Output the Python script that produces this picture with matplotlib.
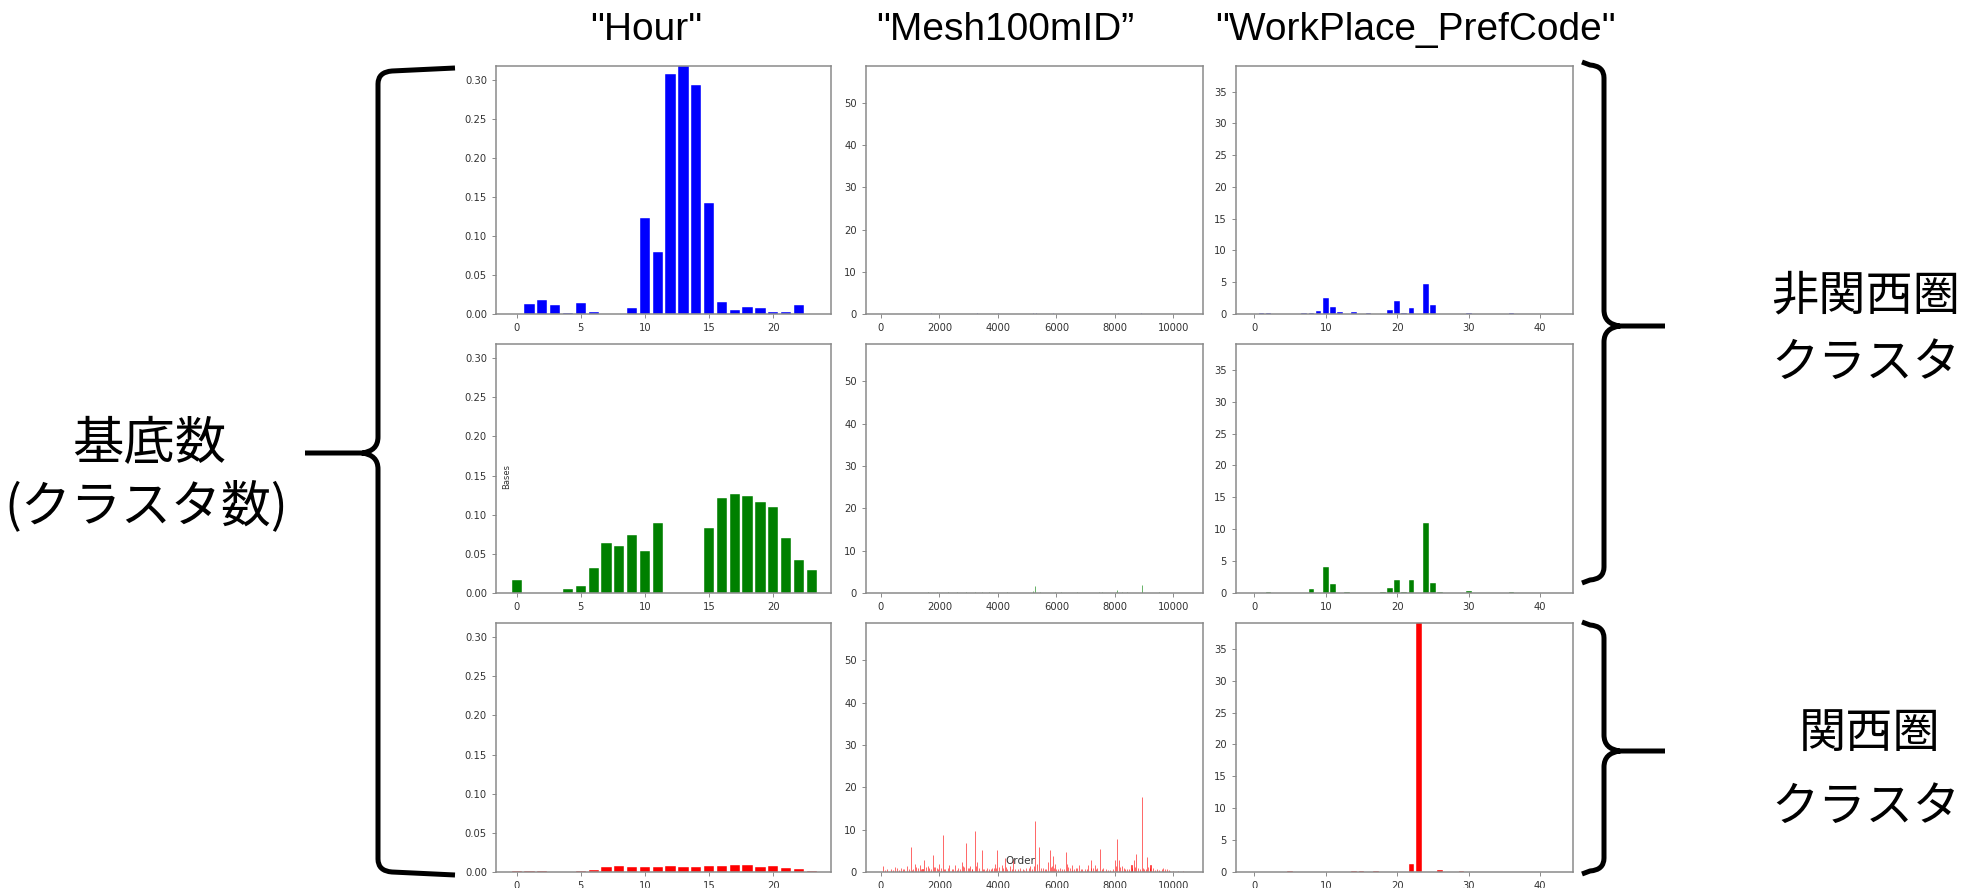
import numpy as np
import matplotlib
matplotlib.use("Agg")
import matplotlib.pyplot as plt
from matplotlib.path import Path
from matplotlib.patches import PathPatch
import matplotlib.font_manager as fm

# ---------------- data ----------------
col_titles = ['"Hour"', '"Mesh100mID\u201d', '"WorkPlace_PrefCode"']
row_colors = ["#0000ff", "#008000", "#ff0000"]

hours = list(range(24))
hour_blue = [0, 0.0128, 0.0175, 0.012, 0.0017, 0.0137, 0.002, 0, 0, 0.0077,
             0.123, 0.080, 0.308, 0.318, 0.294, 0.1425, 0.015, 0.005, 0.0094,
             0.0077, 0.002, 0.003, 0.0115, 0]
hour_green = [0.0166, 0, 0, 0, 0.0047, 0.0085, 0.0316, 0.064, 0.0606, 0.0738,
              0.054, 0.0888, 0, 0, 0, 0.0836, 0.1216, 0.1259, 0.1242, 0.116,
              0.110, 0.0708, 0.0427, 0.0299]
hour_red = [0.0017, 0.0013, 0.0013, 0, 0, 0.0013, 0.003, 0.006, 0.0077, 0.006,
            0.0068, 0.0068, 0.0077, 0.0068, 0.0068, 0.0077, 0.0077, 0.0094,
            0.0094, 0.0068, 0.0077, 0.005, 0.0034, 0.0017]

pref_codes = list(range(43))
pref_blue = [0.05, 0.2, 0.2, 0, 0, 0, 0, 0.1, 0.2, 0.52,
             2.5, 1.1, 0.26, 0, 0.37, 0, 0.15, 0, 0, 0.58,
             2.0, 0.15, 0.94, 0, 4.8, 1.36, 0, 0, 0, 0,
             0.1, 0, 0, 0, 0, 0, 0.1, 0, 0, 0,
             0, 0, 0]
pref_green = [0, 0, 0.2, 0, 0, 0, 0, 0, 0.58, 0,
              4.0, 1.37, 0, 0.2, 0, 0, 0, 0, 0.1, 0.79,
              2.05, 0.1, 2.0, 0, 10.9, 1.63, 0.1, 0, 0, 0,
              0.37, 0, 0, 0, 0, 0, 0.2, 0, 0, 0,
              0, 0, 0]
pref_red = [0, 0, 0, 0, 0, 0.1, 0, 0, 0, 0,
            0, 0, 0, 0, 0.1, 0.1, 0, 0.15, 0, 0,
            0, 0, 1.2, 39.5, 0, 0, 0.37, 0, 0, 0.1,
            0, 0, 0, 0, 0, 0, 0, 0, 0, 0,
            0, 0, 0]

# Mesh100mID: sparse non-zero entries (index, value)
mesh_idx_blue = [1000, 1250, 1700, 2000, 2950, 3300, 4000, 4300, 5200, 5300,
                 5650, 5900, 6800, 7400, 7600, 8100, 8900]
mesh_val_blue = [0.1, 0.1, 0.15, 0.1, 0.1, 0.15, 0.2, 0.1, 0.2, 0.25,
                 0.1, 0.15, 0.1, 0.1, 0.1, 0.3, 0.15]

mesh_idx_green = [1600, 1900, 2300, 2600, 2900, 3200, 3450, 3700, 4300, 5190,
                  5265, 5450, 5950, 6150, 6700, 7450, 7550, 8050, 8090, 8250,
                  8400, 8940, 9500]
mesh_val_green = [0.15, 0.2, 0.15, 0.2, 0.3, 0.2, 0.2, 0.15, 0.2, 0.5,
                  1.6, 0.2, 0.3, 0.2, 0.2, 0.15, 0.2, 0.3, 0.6, 0.2,
                  0.2, 1.8, 0.15]

mesh_idx_red = [80, 200, 330, 480, 600, 700, 800, 880, 950, 1015, 1100, 1160,
                1250, 1330, 1420, 1480, 1550, 1600, 1700, 1770, 1840, 1900,
                2000, 2060, 2110, 2200, 2340, 2430, 2530, 2645, 2700, 2760,
                2830, 2900, 2980, 3045, 3130, 3215, 3295, 3360, 3440, 3530,
                3615, 3700, 3785, 3850, 3900, 3970, 4050, 4125, 4240, 4320,
                4410, 4525, 4600, 4755, 4850, 4950, 5100, 5180, 5265, 5330,
                5400, 5480, 5550, 5650, 5720, 5780, 5850, 5890, 5950, 6050,
                6120, 6200, 6315, 6370, 6450, 6520, 6600, 6670, 6780, 6880,
                6980, 7090, 7170, 7250, 7320, 7400, 7490, 7600, 7700, 7830,
                7950, 8000, 8090, 8140, 8230, 8300, 8400, 8500, 8570, 8650,
                8720, 8800, 8925, 9000, 9085, 9150, 9220, 9310, 9450, 9600,
                9655, 9770, 9850, 10000, 10150, 10340,
                150, 420, 540, 760, 1060, 1200, 1380, 1650, 1800, 1950,
                2150, 2280, 2480, 2590, 2800, 3000, 3100, 3250, 3500, 3580,
                3750, 3930, 4180, 4280, 4470, 4700, 4900, 5050, 5230, 5600,
                5820, 5920, 6000, 6250, 6400, 6550, 6720, 6850, 7050, 7200,
                7350, 7550, 7750, 8050, 8180, 8350, 8600, 8680, 8850, 8980,
                9050, 9200, 9380, 9520, 9700, 9900]
mesh_val_red = [1.4, 0.6, 0.8, 1.2, 0.5, 1.0, 0.7, 1.5, 0.6, 5.9, 0.8, 2.0,
                0.9, 1.6, 0.7, 2.8, 1.1, 1.3, 0.8, 3.9, 1.2, 1.0,
                2.0, 0.9, 8.7, 0.7, 1.7, 0.6, 1.6, 1.0, 0.8, 2.4,
                1.2, 6.9, 0.9, 1.3, 0.8, 9.7, 2.4, 1.0, 5.1, 0.6,
                1.0, 0.7, 1.0, 0.9, 2.0, 5.1, 1.1, 1.6, 3.3, 0.8,
                1.3, 3.1, 0.7, 1.0, 0.6, 0.9, 1.5, 0.8, 12.0, 1.8,
                5.9, 0.9, 1.0, 0.7, 2.4, 5.1, 1.5, 3.8, 2.0, 0.8,
                1.0, 0.7, 4.7, 2.0, 0.9, 1.6, 0.6, 1.0, 1.6, 0.8,
                0.6, 1.6, 2.8, 1.0, 1.6, 0.9, 5.5, 1.0, 0.6, 0.5,
                0.7, 2.9, 7.7, 2.8, 1.5, 0.9, 0.8, 0.6, 1.6, 2.8,
                4.3, 0.9, 17.7, 0.8, 3.5, 1.2, 1.6, 1.0, 0.6, 0.8,
                1.0, 0.8, 0.5, 0.3, 0.3, 0.2,
                0.5, 0.4, 0.9, 0.6, 0.5, 1.1, 0.7, 0.9, 1.2, 0.6,
                0.8, 1.0, 0.7, 0.5, 1.3, 0.9, 0.6, 1.4, 0.8, 0.5,
                0.7, 1.0, 0.9, 1.2, 0.6, 0.8, 0.5, 1.0, 1.3, 0.7,
                1.1, 0.9, 0.6, 0.8, 1.2, 0.5, 0.9, 0.7, 0.6, 1.0,
                0.8, 0.6, 0.5, 1.4, 1.1, 0.7, 0.9, 1.2, 0.8, 1.0,
                0.6, 0.9, 0.5, 0.4, 0.6, 0.3]

hour_data = [hour_blue, hour_green, hour_red]
pref_data = [pref_blue, pref_green, pref_red]
mesh_data = [(mesh_idx_blue, mesh_val_blue), (mesh_idx_green, mesh_val_green),
             (mesh_idx_red, mesh_val_red)]

# ---------------- layout ----------------
W, H = 1963, 888
plt.rcParams["font.family"] = ["DejaVu Sans"]
fig = plt.figure(figsize=(W / 100, H / 100), dpi=100)

names = {f.name for f in fm.fontManager.ttflist}
title_family = ["Liberation Sans Narrow"] if "Liberation Sans Narrow" in names else ["Liberation Sans"]
cjk = ["Noto Sans CJK JP", "DejaVu Sans"]

col_x = [496, 866, 1236]
col_w = [335, 337, 337]
row_top = [66, 344, 623]
row_bot = [314, 593, 872]

spine_col = "#8a8a8a"
tick_col = "#333333"


def style(ax):
    for s in ax.spines.values():
        s.set_color(spine_col)
        s.set_linewidth(1.1)
    ax.tick_params(labelsize=7.2, colors=tick_col, length=3, width=0.7,
                   color=spine_col)


axes = [[None] * 3 for _ in range(3)]
for r in range(3):
    for c in range(3):
        x, w = col_x[c], col_w[c]
        t, b = row_top[r], row_bot[r]
        ax = fig.add_axes([x / W, 1 - b / H, w / W, (b - t) / H])
        axes[r][c] = ax
        style(ax)
        colr = row_colors[r]
        if c == 0:
            ax.bar(hours, hour_data[r], width=0.8, color=colr,
                   edgecolor="white", linewidth=0.3)
            ax.set_ylim(0, 0.318)
            ax.set_xlim(-1.61, 24.5)
            ax.set_xticks([0, 5, 10, 15, 20])
            ax.set_yticks([0, 0.05, 0.10, 0.15, 0.20, 0.25, 0.30])
            ax.set_yticklabels(["0.00", "0.05", "0.10", "0.15", "0.20", "0.25", "0.30"])
        elif c == 1:
            idx, val = mesh_data[r]
            ax.bar(idx, val, width=0.8, color=colr, edgecolor=colr,
                   linewidth=0.7, alpha=0.6)
            ax.set_ylim(0, 58.8)
            ax.set_xlim(-513, 11016)
            ax.set_xticks([0, 2000, 4000, 6000, 8000, 10000])
            ax.set_yticks([0, 10, 20, 30, 40, 50])
        else:
            ax.bar(pref_codes, pref_data[r], width=0.8, color=colr,
                   edgecolor="white", linewidth=0.3)
            ax.set_ylim(0, 39.05)
            ax.set_xlim(-2.56, 44.6)
            ax.set_xticks([0, 10, 20, 30, 40])
            ax.set_yticks([0, 5, 10, 15, 20, 25, 30, 35])

axes[1][0].text(0.033, 0.466, "Bases", transform=axes[1][0].transAxes,
                rotation=90, fontsize=6, color=tick_col, ha="center", va="center")
axes[2][1].text(0.457, 0.045, "Order", transform=axes[2][1].transAxes,
                fontsize=7.5, color=tick_col, ha="center", va="center")

# ---------------- overlay: titles, braces, labels ----------------
ov = fig.add_axes([0, 0, 1, 1])
ov.set_xlim(0, W)
ov.set_ylim(H, 0)
ov.axis("off")

title_x = [646, 1005, 1415]
for tx, tt in zip(title_x, col_titles):
    ov.text(tx, 30, tt, ha="center", va="center", fontsize=28,
            family=title_family, color="black")


def brace(xv, xtip, xarm, y0, y1, ym, r=14, rt=16):
    a = 1 if xarm > xv else -1
    verts = [
        (xarm, y0 - 2), (xv + a * r, y0 + 1), (xv, y0 + 2), (xv, y0 + r),
        (xv, ym - rt), (xv, ym - 2), (xv - a * rt, ym), (xtip, ym),
        (xv - a * rt, ym), (xv, ym + 2), (xv, ym + rt),
        (xv, y1 - r), (xv, y1 - 2), (xv + a * r, y1 - 1), (xarm, y1 + 2),
    ]
    codes = [Path.MOVETO, Path.LINETO, Path.CURVE3, Path.CURVE3,
             Path.LINETO, Path.CURVE3, Path.CURVE3, Path.LINETO,
             Path.MOVETO, Path.CURVE3, Path.CURVE3,
             Path.LINETO, Path.CURVE3, Path.CURVE3, Path.LINETO]
    ov.add_patch(PathPatch(Path(verts, codes), fill=False, lw=3.6,
                           edgecolor="black", capstyle="butt",
                           joinstyle="round"))


brace(378, 305, 455, 70, 873, 453)
brace(1604, 1665, 1582, 64, 581, 326)
brace(1604, 1665, 1582, 624, 872, 751)

ov.text(149, 444, "基底数", ha="center", va="center", fontsize=37, family=cjk)
ov.text(146, 507, "(クラスタ数)", ha="center", va="center", fontsize=36, family=cjk)
ov.text(1866, 296, "非関西圏", ha="center", va="center", fontsize=34, family=cjk)
ov.text(1866, 364, "クラスタ", ha="center", va="center", fontsize=34, family=cjk)
ov.text(1870, 734, "関西圏", ha="center", va="center", fontsize=34, family=cjk)
ov.text(1866, 808, "クラスタ", ha="center", va="center", fontsize=34, family=cjk)

fig.savefig("out.png", dpi=100)
